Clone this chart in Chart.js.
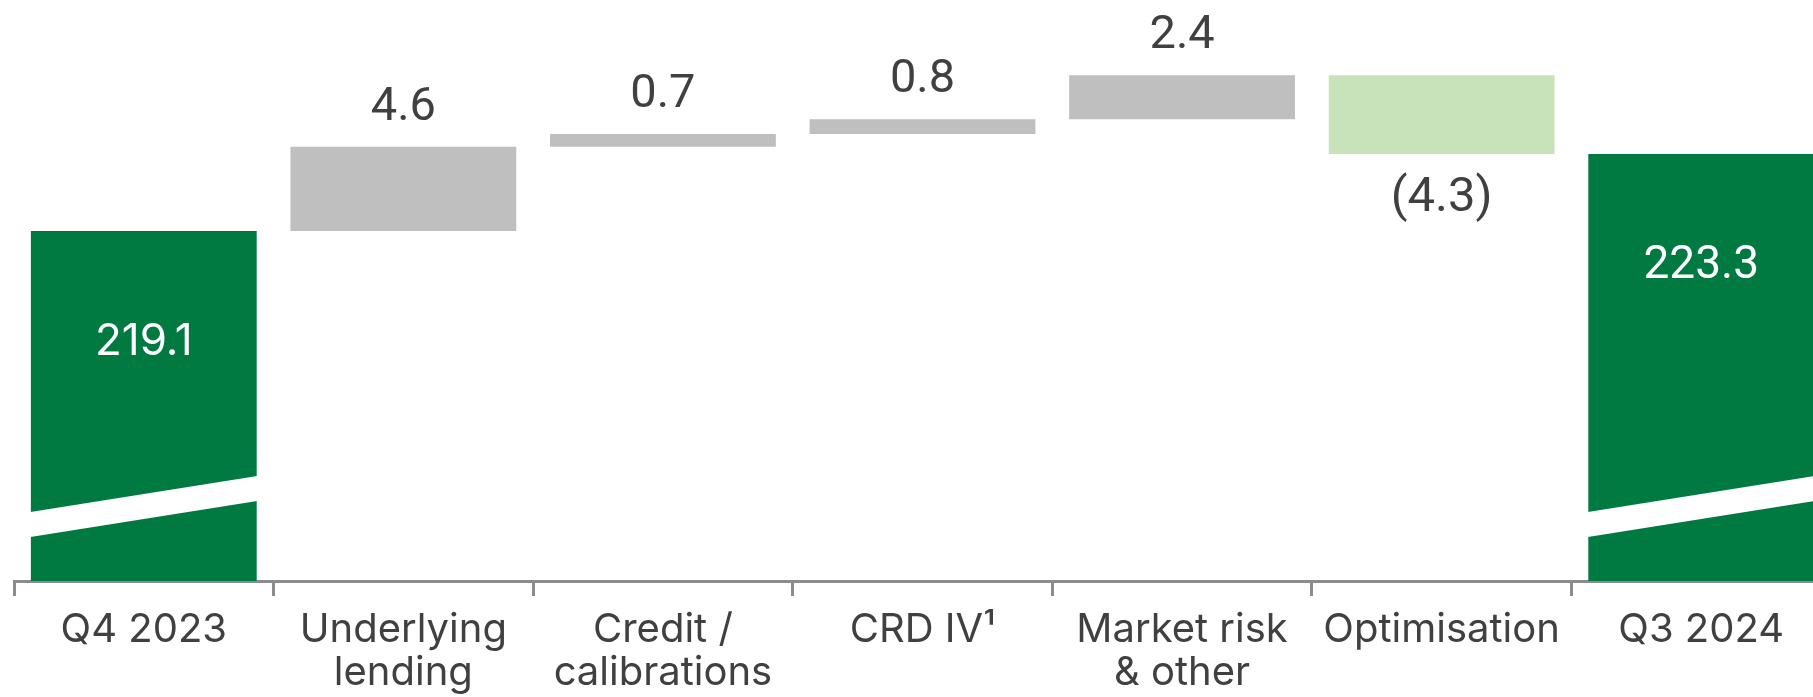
<!DOCTYPE html>
<html>
<head>
<meta charset="utf-8">
<script src="https://cdn.jsdelivr.net/npm/chart.js@4.4.1/dist/chart.umd.min.js"></script>
<style>
  html, body { margin: 0; padding: 0; background: #ffffff; overflow: hidden; width: 1813px; height: 697px; }
  #wrap { position: relative; width: 1831px; height: 697px; }
  canvas { display: block; }
</style>
</head>
<body>
<div id="wrap"><canvas id="rwa" width="1831" height="697"></canvas></div>
<script>
// Risk-weighted assets bridge (£bn), Q4 2023 to Q3 2024
const categories = [
  'Q4 2023',
  ['Underlying', 'lending'],
  ['Credit /', 'calibrations'],
  'CRD IV\u00B9',
  ['Market risk', '& other'],
  'Optimisation',
  'Q3 2024'
];
const openingTotal = 219.1;
const movements = [4.6, 0.7, 0.8, 2.4, -4.3];
const closingTotal = 223.3;
const axisFloor = 200;
const valueLabels = ['219.1', '4.6', '0.7', '0.8', '2.4', '(4.3)', '223.3'];

const GREEN = '#007a40';
const GREY = '#bfbfbf';
const LIGHT_GREEN = '#c8e3b9';
const TEXT = '#404040';
const AXIS = '#8c8c8c';

// Floating [low, high] ranges for every bar of the bridge
const ranges = [[axisFloor, openingTotal]];
const colours = [GREEN];
let running = openingTotal;
movements.forEach(m => {
  const next = +(running + m).toFixed(1);
  ranges.push([Math.min(running, next), Math.max(running, next)]);
  colours.push(m >= 0 ? GREY : LIGHT_GREEN);
  running = next;
});
ranges.push([axisFloor, closingTotal]);
colours.push(GREEN);
const isTotal = ranges.map((_, i) => i === 0 || i === ranges.length - 1);

// Value labels and the axis-break stripe across the two total bars
const bridgeDecor = {
  id: 'bridgeDecor',
  afterDatasetsDraw(chart) {
    const ctx = chart.ctx;
    const meta = chart.getDatasetMeta(0);
    const base = chart.scales.y.getPixelForValue(axisFloor);
    meta.data.forEach((bar, i) => {
      const left = bar.x - bar.width / 2;
      const right = bar.x + bar.width / 2;
      const top = Math.min(bar.y, bar.base);
      const bottom = Math.max(bar.y, bar.base);
      ctx.save();
      if (isTotal[i]) {
        // diagonal white break
        const slope = (105 - 69) / bar.width;
        const gap = 25;
        const l = left - 2, r = right + 2;
        const yl = base - 69 + slope * 2, yr = base - 105 - slope * 2;
        ctx.fillStyle = '#ffffff';
        ctx.beginPath();
        ctx.moveTo(l, yl);
        ctx.lineTo(r, yr);
        ctx.lineTo(r, yr + gap);
        ctx.lineTo(l, yl + gap);
        ctx.closePath();
        ctx.fill();
        // total label inside the bar
        ctx.fillStyle = '#ffffff';
        ctx.textAlign = 'center';
        ctx.textBaseline = 'alphabetic';
        ctx.font = i === 0 ? '400 44px Inter' : '400 46px Roboto';
        ctx.fillText(valueLabels[i], bar.x, top + 124);
      } else {
        ctx.fillStyle = TEXT;
        ctx.textAlign = 'center';
        ctx.textBaseline = 'alphabetic';
        ctx.font = '400 47px Roboto';
        if (movements[i - 1] >= 0) {
          ctx.fillText(valueLabels[i], bar.x, top - 27);
        } else {
          ctx.font = '400 49px Roboto';
          ctx.fillText(valueLabels[i], bar.x, bottom + 57);
        }
      }
      ctx.restore();
    });
  }
};

new Chart(document.getElementById('rwa'), {
  type: 'bar',
  data: {
    labels: categories,
    datasets: [{
      data: ranges,
      backgroundColor: colours,
      borderWidth: 0,
      borderSkipped: false,
      categoryPercentage: 1,
      barPercentage: 0.87
    }]
  },
  options: {
    responsive: false,
    animation: false,
    devicePixelRatio: 1,
    layout: { padding: { left: 14, right: 0, top: 0, bottom: 0 } },
    plugins: {
      legend: { display: false },
      tooltip: { enabled: false },
      title: { display: false }
    },
    scales: {
      x: {
        afterFit(scale) { scale.height = 116; },
        grid: {
          offset: true,
          drawOnChartArea: false,
          drawTicks: true,
          tickLength: 15,
          color: AXIS,
          lineWidth: 3
        },
        border: { display: true, color: AXIS, width: 3 },
        ticks: {
          color: TEXT,
          font: { family: 'Inter', size: 40, weight: '400', lineHeight: 1.07 },
          padding: 13,
          maxRotation: 0,
          minRotation: 0,
          autoSkip: false
        }
      },
      y: {
        display: false,
        min: axisFloor,
        max: 231.71
      }
    }
  },
  plugins: [bridgeDecor]
});
</script>
</body>
</html>
